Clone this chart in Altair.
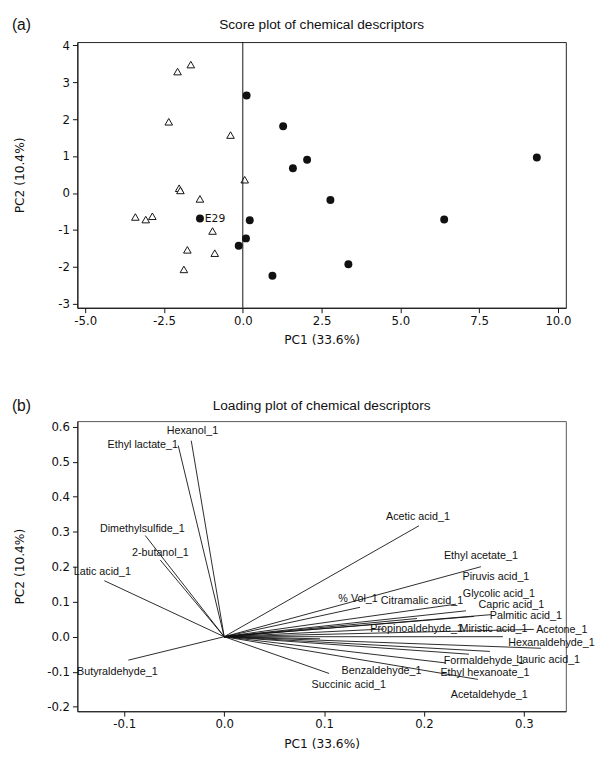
import altair as alt
import pandas as pd

# ---------------- Score plot data ----------------
tri_x = [-2.07, -1.65, -2.35, -0.39, -2.02, -1.98, -1.36, 0.06, -3.41, -3.08, -2.87, -0.96, -1.76, -0.89, -1.87]
tri_y = [3.29, 3.48, 1.93, 1.57, 0.13, 0.07, -0.16, 0.36, -0.65, -0.72, -0.63, -1.03, -1.54, -1.63, -2.07]
cir_x = [0.12, 1.28, 1.59, 2.04, 2.78, 9.33, -1.36, 0.22, 0.10, -0.13, 0.94, 3.35, 6.39]
cir_y = [2.64, 1.81, 0.67, 0.90, -0.19, 0.96, -0.69, -0.74, -1.23, -1.43, -2.24, -1.93, -0.72]
cir_lab = ["", "", "", "", "", "", "E29", "", "", "", "", "", ""]

score_x_ticks = [-5.0, -2.5, 0.0, 2.5, 5.0, 7.5, 10.0]
score_y_ticks = [-3, -2, -1, 0, 1, 2, 3, 4]

# ---------------- Loading plot data ----------------
variables = ["Hexanol_1", "Ethyl lactate_1", "Dimethylsulfide_1", "2-butanol_1", "Latic acid_1",
             "Butyraldehyde_1", "Acetic acid_1", "Ethyl acetate_1", "Piruvis acid_1", "Glycolic acid_1",
             "% Vol_1", "Citramalic acid_1", "Capric acid_1", "Palmitic acid_1", "Propinoaldehyde_1",
             "Miristic acid_1", "Acetone_1", "Hexanaldehyde_1", "Lauric acid_1", "Formaldehyde_1",
             "Benzaldehyde_1", "Ethyl hexanoate_1", "Succinic acid_1", "Acetaldehyde_1"]
load_x = [-0.033, -0.046, -0.079, -0.064, -0.120,
          -0.096, 0.195, 0.257, 0.193, 0.242,
          0.136, 0.232, 0.250, 0.267, 0.160,
          0.310, 0.279, 0.317, 0.266, 0.245,
          0.096, 0.222, 0.105, 0.254]
load_y = [0.560, 0.546, 0.289, 0.219, 0.160,
          -0.067, 0.317, 0.200, 0.052, 0.074,
          0.084, 0.093, 0.058, 0.063, 0.022,
          0.021, 0.000, -0.033, -0.042, -0.050,
          -0.006, -0.075, -0.105, -0.122]
label_x = [-0.0318, -0.0815, -0.082, -0.064, -0.122,
           -0.107, 0.194, 0.257, 0.272, 0.275,
           0.134, 0.198, 0.2875, 0.302, 0.1926,
           0.2696, 0.338, 0.3276, 0.3243, 0.260,
           0.1575, 0.261, 0.1247, 0.2654]
label_y = [0.588, 0.547, 0.308, 0.240, 0.185,
           -0.100, 0.341, 0.229, 0.170, 0.123,
           0.107, 0.1025, 0.091, 0.059, 0.023,
           0.023, 0.0185, -0.019, -0.0655, -0.070,
           -0.098, -0.103, -0.137, -0.166]

load_x_ticks = [-0.1, 0.0, 0.1, 0.2, 0.3]
load_y_ticks = [-0.2, -0.1, 0.0, 0.1, 0.2, 0.3, 0.4, 0.5, 0.6]

tri_df = pd.DataFrame({"x": tri_x, "y": tri_y})
cir_df = pd.DataFrame({"x": cir_x, "y": cir_y, "lab": cir_lab})
load_df = pd.DataFrame({"var": variables, "x": load_x, "y": load_y,
                        "x0": [0.0] * len(variables), "y0": [0.0] * len(variables),
                        "lx": label_x, "ly": label_y})
one_df = pd.DataFrame({"k": [0]})

AX_FONT = "DejaVu Sans"
TXT_FONT = "Liberation Sans"
W = 500


def lab_expr(fmt):
    return ("datum.value < 0 ? '-' + format(-datum.value, '%s') : format(datum.value, '%s')" % (fmt, fmt))


def axis(values, fmt, title, vertical=False):
    kw = dict(values=values, labelExpr=lab_expr(fmt), title=title, grid=False,
              tickSize=5, labelPadding=3, labelFont=AX_FONT, labelFontSize=12,
              labelColor="#111", titleFont=AX_FONT, titleFontSize=12.5,
              titleFontWeight="normal", titleColor="#111", domainColor="#111",
              tickColor="#111", labelFlush=False, labelOverlap=False,
              labelSeparation=0)
    if vertical:
        kw.update(titleX=-59, titleBaseline="middle", titleAngle=270)
    else:
        kw.update(titlePadding=8)
    return alt.Axis(**kw)


def header(title, panel, y):
    t = alt.Chart(one_df).mark_text(text=title, font=TXT_FONT, fontSize=14, color="#111",
                                    align="center", baseline="middle").encode(
        x=alt.value(W / 2), y=alt.value(y))
    p = alt.Chart(one_df).mark_text(text=panel, font=TXT_FONT, fontSize=16, color="#111",
                                    align="left", baseline="middle").encode(
        x=alt.value(-67), y=alt.value(y))
    return t, p


# ---------------- (a) score plot ----------------
sx = alt.Scale(domain=[-5.25, 10.25], nice=False, zero=False)
sy = alt.Scale(domain=[-3.11, 4.09], nice=False, zero=False)
ax_sx = axis(score_x_ticks, ".1f", "PC1 (33.6%)")
ax_sy = axis(score_y_ticks, "d", "PC2 (10.4%)", vertical=True)

tri = alt.Chart(tri_df).mark_point(shape="triangle-up", size=60, filled=True,
                                   fill="white", stroke="#111", strokeWidth=1,
                                   opacity=1).encode(
    x=alt.X("x:Q", scale=sx, axis=ax_sx),
    y=alt.Y("y:Q", scale=sy, axis=ax_sy))
zero_line = alt.Chart(one_df).mark_rule(color="#111", strokeWidth=1).encode(
    x=alt.X(datum=0, type="quantitative", scale=sx, axis=ax_sx))
cir = alt.Chart(cir_df).mark_circle(size=66, color="#111", opacity=1).encode(
    x=alt.X("x:Q", scale=sx, axis=ax_sx), y=alt.Y("y:Q", scale=sy, axis=ax_sy))
e29 = alt.Chart(cir_df).mark_text(align="left", baseline="middle", dx=5, dy=1,
                                  font=AX_FONT, fontSize=11, color="#111").encode(
    x=alt.X("x:Q", scale=sx, axis=ax_sx), y=alt.Y("y:Q", scale=sy, axis=ax_sy), text="lab:N")
ta, pa = header("Score plot of chemical descriptors", "(a)", -17)

top = alt.layer(tri, zero_line, cir, e29, ta, pa).properties(
    width=W, height=272,
    view=alt.ViewBackground(stroke="#222", strokeWidth=1))

# ---------------- (b) loading plot ----------------
lx = alt.Scale(domain=[-0.147, 0.342], nice=False, zero=False)
ly = alt.Scale(domain=[-0.213, 0.616], nice=False, zero=False)
ax_lx = axis(load_x_ticks, ".1f", "PC1 (33.6%)")
ax_ly = axis(load_y_ticks, ".1f", "PC2 (10.4%)", vertical=True)

vec = alt.Chart(load_df).mark_rule(color="#111", strokeWidth=0.9).encode(
    x=alt.X("x0:Q", scale=lx, axis=ax_lx),
    x2="x:Q",
    y=alt.Y("y0:Q", scale=ly, axis=ax_ly),
    y2="y:Q")
labels = alt.Chart(load_df).mark_text(font=TXT_FONT, fontSize=11, color="#111",
                                      align="center", baseline="middle").encode(
    x=alt.X("lx:Q", scale=lx, axis=ax_lx), y=alt.Y("ly:Q", scale=ly, axis=ax_ly), text="var:N")
tb, pb = header("Loading plot of chemical descriptors", "(b)", -15)

bottom = alt.layer(vec, labels, tb, pb).properties(
    width=W, height=297,
    view=alt.ViewBackground(stroke="#555", strokeWidth=1))

chart = alt.vconcat(top, bottom, spacing=52).properties(
    padding={"left": 3, "top": 0, "right": 5, "bottom": 0},
    background="white"
).configure_axis(labelOverlap=False)

chart.save("out.html", embed_options={"renderer": "svg", "actions": False})
